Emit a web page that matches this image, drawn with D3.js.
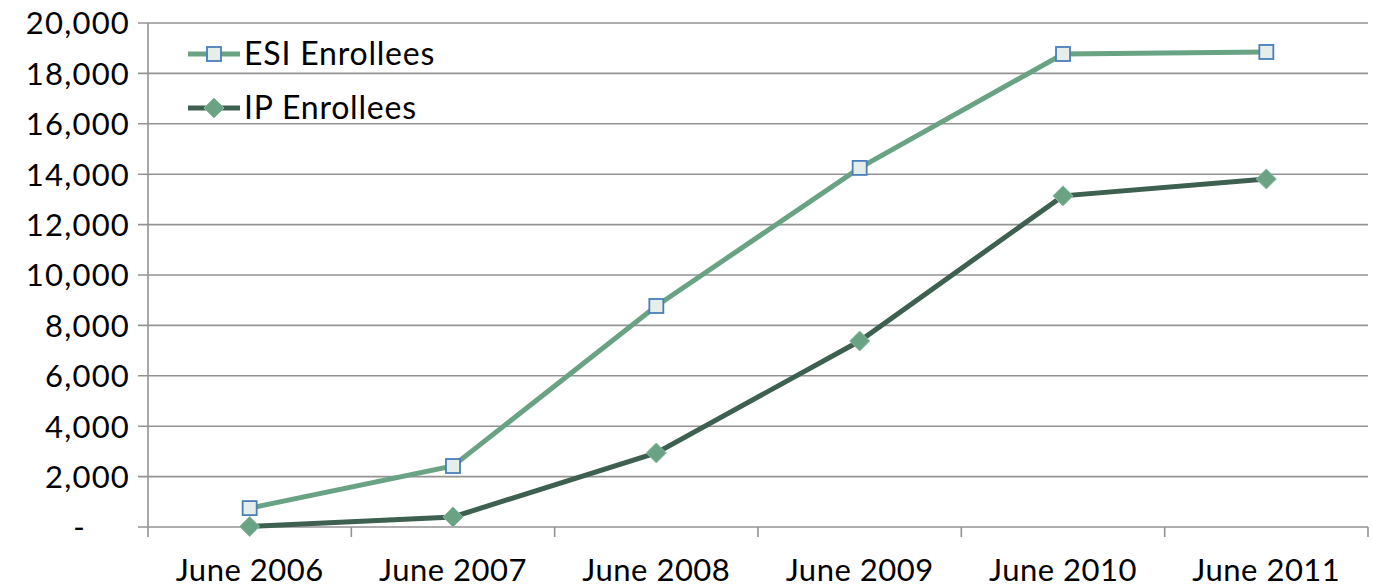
<!DOCTYPE html>
<html lang="en">
<head>
<meta charset="UTF-8">
<title>ESI and IP Enrollees</title>
<script src="https://d3js.org/d3.v7.min.js"></script>
<style>
  body { margin: 0; background: #fff; }
  svg text { font-family: Lato, "Open Sans", sans-serif; fill: #000; }
</style>
</head>
<body>
<div id="chart"></div>
<script>
// data
var categories = ["June 2006", "June 2007", "June 2008", "June 2009", "June 2010", "June 2011"];
var esiValues = [750, 2420, 8770, 14250, 18770, 18850];
var ipValues = [20, 400, 2940, 7380, 13140, 13810];
var yTicks = [0, 2000, 4000, 6000, 8000, 10000, 12000, 14000, 16000, 18000, 20000];

var W = 1373, H = 587;
var margin = {top: 23, right: 5, bottom: 60, left: 148};
var width = W - margin.left - margin.right,
    height = H - margin.top - margin.bottom;
var fontSize = "31px";

var svg = d3.select("#chart").append("svg")
    .attr("width", W)
    .attr("height", H);
var g = svg.append("g")
    .attr("transform", "translate(" + margin.left + "," + margin.top + ")");

var x = d3.scaleBand().domain(categories).range([0, width]);
var y = d3.scaleLinear().domain([0, 20000]).range([height, 0]);

var gridColor = "#939393";

// horizontal gridlines
g.selectAll("line.grid")
  .data(yTicks)
  .enter().append("line")
    .attr("class", "grid")
    .attr("x1", -10).attr("x2", width)
    .attr("y1", function(d) { return y(d); })
    .attr("y2", function(d) { return y(d); })
    .attr("stroke", gridColor)
    .attr("stroke-width", 1.6);

// y axis (accounting style: zero shown as a dash, set in from the right)
var yAxis = g.append("g")
    .call(d3.axisLeft(y).tickValues(yTicks).tickSize(0).tickPadding(18)
      .tickFormat(function(d) { return d === 0 ? "-" : d3.format(",")(d); }));
yAxis.select(".domain").remove();
yAxis.selectAll("text")
    .style("font-size", fontSize).style("letter-spacing", "1.2px")
    .attr("dy", "0.35em")
    .attr("dx", function(d) { return d === 0 ? -44 : 0; });
g.append("line")
    .attr("x1", 0).attr("x2", 0)
    .attr("y1", 0).attr("y2", height + 10)
    .attr("stroke", gridColor).attr("stroke-width", 1.6);

// x axis
var xAxis = g.append("g")
    .attr("transform", "translate(0," + height + ")")
    .call(d3.axisBottom(x).tickSize(0).tickPadding(32));
xAxis.select(".domain").remove();
xAxis.selectAll("text").style("font-size", fontSize).style("letter-spacing", "0.5px");
g.selectAll("line.xtick")
  .data(categories.slice(1).concat(["end"]))
  .enter().append("line")
    .attr("class", "xtick")
    .attr("x1", function(d, i) { return x.step() * (i + 1); })
    .attr("x2", function(d, i) { return x.step() * (i + 1); })
    .attr("y1", height).attr("y2", height + 10)
    .attr("stroke", gridColor).attr("stroke-width", 1.6);

var cx = function(d, i) { return x(categories[i]) + x.bandwidth() / 2; };
var line = d3.line().x(cx).y(function(d) { return y(d); });

var esiLine = "#6aa384", ipLine = "#3e6050";

g.append("path").datum(esiValues)
    .attr("d", line).attr("fill", "none")
    .attr("stroke", esiLine).attr("stroke-width", 5);
g.append("path").datum(ipValues)
    .attr("d", line).attr("fill", "none")
    .attr("stroke", ipLine).attr("stroke-width", 5);

var sq = 14, dm = 10;
g.selectAll("rect.esi")
  .data(esiValues)
  .enter().append("rect")
    .attr("class", "esi")
    .attr("x", function(d, i) { return cx(d, i) - sq / 2; })
    .attr("y", function(d) { return y(d) - sq / 2; })
    .attr("width", sq).attr("height", sq)
    .attr("fill", "#e6eeea").attr("stroke", "#4a7ebb").attr("stroke-width", 1.8);

g.selectAll("path.ip")
  .data(ipValues)
  .enter().append("path")
    .attr("class", "ip")
    .attr("d", function(d, i) {
      var px = cx(d, i), py = y(d);
      return "M" + px + "," + (py - dm) + "L" + (px + dm) + "," + py +
             "L" + px + "," + (py + dm) + "L" + (px - dm) + "," + py + "Z";
    })
    .attr("fill", "#6aa384").attr("stroke", "#8cbba1").attr("stroke-width", 1);

// legend
var legend = svg.append("g").attr("transform", "translate(188,0)");
var items = [
  {name: "ESI Enrollees", color: esiLine, y: 54},
  {name: "IP Enrollees", color: ipLine, y: 108}
];
items.forEach(function(it, k) {
  legend.append("line")
    .attr("x1", 0).attr("x2", 52).attr("y1", it.y).attr("y2", it.y)
    .attr("stroke", it.color).attr("stroke-width", 5);
  if (k === 0) {
    legend.append("rect")
      .attr("x", 19).attr("y", it.y - 7).attr("width", 14).attr("height", 14)
      .attr("fill", "#e6eeea").attr("stroke", "#4a7ebb").attr("stroke-width", 1.8);
  } else {
    legend.append("path")
      .attr("d", "M26," + (it.y - 10) + "L36," + it.y + "L26," + (it.y + 10) + "L16," + it.y + "Z")
      .attr("fill", "#6aa384").attr("stroke", "#8cbba1").attr("stroke-width", 1);
  }
  legend.append("text")
    .attr("x", 56).attr("y", it.y).attr("dy", "0.35em")
    .style("font-size", "32px").style("letter-spacing", "0.8px")
    .text(it.name);
});
</script>
</body>
</html>
